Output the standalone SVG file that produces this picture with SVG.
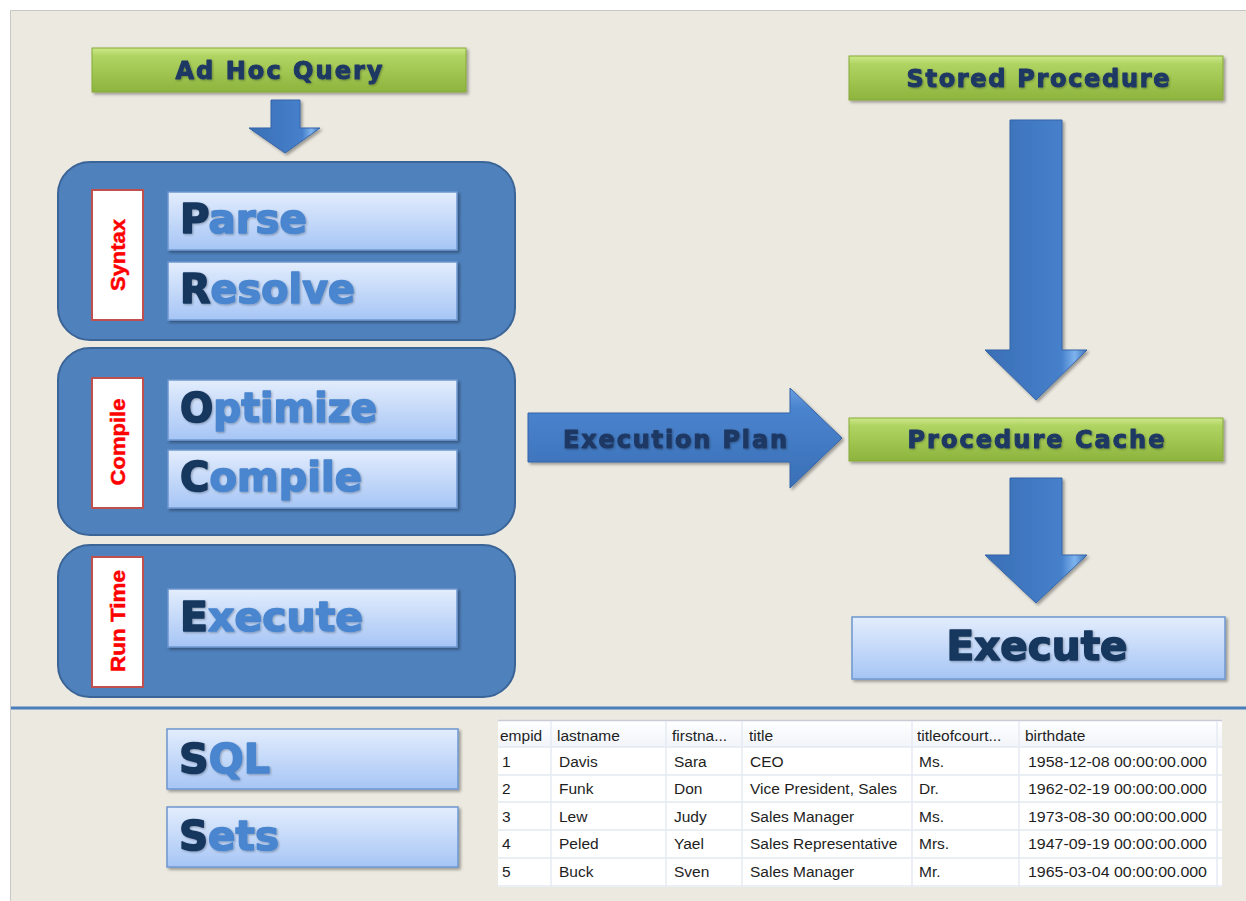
<svg xmlns="http://www.w3.org/2000/svg" width="1246" height="901" viewBox="0 0 1246 901">
<defs>
  <linearGradient id="greenGrad" x1="0" y1="0" x2="0" y2="1">
    <stop offset="0" stop-color="#CDE88A"/>
    <stop offset="0.18" stop-color="#B0D462"/>
    <stop offset="1" stop-color="#8DB43D"/>
  </linearGradient>
  <linearGradient id="procGrad" x1="0" y1="0" x2="0" y2="1">
    <stop offset="0" stop-color="#E3EDFD"/>
    <stop offset="1" stop-color="#A6C5F5"/>
  </linearGradient>
  <linearGradient id="downGrad" x1="0" y1="0" x2="1" y2="0">
    <stop offset="0" stop-color="#3A6FB6"/>
    <stop offset="0.75" stop-color="#4680CB"/>
    <stop offset="0.88" stop-color="#7DB3EE"/>
    <stop offset="1" stop-color="#3D74BB"/>
  </linearGradient>
  <linearGradient id="rightGrad" x1="0" y1="0" x2="0" y2="1">
    <stop offset="0" stop-color="#6A9FE2"/>
    <stop offset="0.2" stop-color="#4A84CE"/>
    <stop offset="1" stop-color="#3A6FB6"/>
  </linearGradient>
  <linearGradient id="hdrGrad" x1="0" y1="0" x2="0" y2="1">
    <stop offset="0" stop-color="#FFFFFF"/>
    <stop offset="1" stop-color="#F1F4F9"/>
  </linearGradient>
  <filter id="sh" x="-5%" y="-10%" width="115%" height="140%">
    <feDropShadow dx="2" dy="2" stdDeviation="1.5" flood-color="#000" flood-opacity="0.35"/>
  </filter>
  <filter id="tsh" x="-5%" y="-10%" width="115%" height="140%">
    <feDropShadow dx="1" dy="1" stdDeviation="0.8" flood-color="#000" flood-opacity="0.3"/>
  </filter>
  <style>
    .grp { fill:#4F81BD; stroke:#3B6497; stroke-width:2; }
    .lbl { fill:#FFFFFF; stroke:#C0504D; stroke-width:2; }
    .lbltxt { font-family:"Liberation Sans", Arial, sans-serif; font-weight:bold; font-size:21px; fill:#FF0000; stroke:#FF0000; stroke-width:0.5; text-anchor:middle; }
    .proc { fill:url(#procGrad); stroke:#6D97D0; stroke-width:1.5; filter:url(#sh); }
    .big { font-family:"DejaVu Sans", Verdana, sans-serif; font-weight:bold; font-size:40px; filter:url(#tsh); stroke-width:1.6; stroke-linejoin:round; }
    .d { fill:#17375E; stroke:#17375E; }
    .l { fill:#4A86CF; stroke:#4A86CF; }
    .green { fill:url(#greenGrad); stroke:#86A93A; stroke-width:1; filter:url(#sh); }
    .gtxt { font-family:"DejaVu Sans", Verdana, sans-serif; font-weight:bold; font-size:24px; fill:#1F3864; stroke:#1F3864; stroke-width:1; stroke-linejoin:round; text-anchor:middle; filter:url(#tsh); }
    .down { fill:url(#downGrad); stroke:#3565A8; stroke-width:1; filter:url(#sh); }
    .right { fill:url(#rightGrad); stroke:#3565A8; stroke-width:1; filter:url(#sh); }
    .tbl { font-family:"Liberation Sans", Arial, sans-serif; font-size:15.5px; fill:#1E1E1E; }
    .rowline { stroke:#E3E9F2; stroke-width:1.5; }
    .colline { stroke:#E6EBF3; stroke-width:1.5; }
  </style>
</defs>

<rect x="0" y="0" width="1246" height="901" fill="#FFFFFF"/>
<rect x="10.5" y="10.5" width="1240" height="895" fill="#ECE9E0" stroke="#C8C8C8" stroke-width="1"/>
<line x1="11" y1="708" x2="1246" y2="708" stroke="#4A7EBB" stroke-width="3"/>

<g id="connectors">
  <path class="down" d="M271,100 H300 V128 H320 L285,153 L249,128 H271 Z"/>
  <path class="down" d="M1010,120 H1062 V350 H1087 L1036,400 L985,350 H1010 Z"/>
  <path class="down" d="M1010,478 H1062 V555 H1087 L1036,603 L985,555 H1010 Z"/>
</g>

<g id="adhoc">
  <rect class="green" x="92" y="48" width="374" height="44"/>
  <text class="gtxt" x="279" y="79" textLength="207" lengthAdjust="spacing">Ad Hoc Query</text>
</g>

<g id="syntax">
  <rect class="grp" x="58" y="162" width="457" height="178" rx="32"/>
  <rect class="lbl" x="92" y="190" width="51" height="130"/>
  <text class="lbltxt" transform="translate(125,255) rotate(-90)" textLength="72" lengthAdjust="spacingAndGlyphs">Syntax</text>
  <rect class="proc" x="168" y="192" width="289" height="58"/>
  <text class="big" x="180" y="233" textLength="127" lengthAdjust="spacingAndGlyphs"><tspan class="d">P</tspan><tspan class="l">arse</tspan></text>
  <rect class="proc" x="168" y="262" width="289" height="58"/>
  <text class="big" x="180" y="303" textLength="175" lengthAdjust="spacingAndGlyphs"><tspan class="d">R</tspan><tspan class="l">esolve</tspan></text>
</g>

<g id="compile">
  <rect class="grp" x="58" y="348" width="457" height="187" rx="32"/>
  <rect class="lbl" x="92" y="378" width="51" height="130"/>
  <text class="lbltxt" transform="translate(125,442) rotate(-90)" textLength="87" lengthAdjust="spacingAndGlyphs">Compile</text>
  <rect class="proc" x="168" y="380" width="289" height="60"/>
  <text class="big" x="180" y="422" textLength="197" lengthAdjust="spacingAndGlyphs"><tspan class="d">O</tspan><tspan class="l">ptimize</tspan></text>
  <rect class="proc" x="168" y="450" width="289" height="58"/>
  <text class="big" x="180" y="491" textLength="182" lengthAdjust="spacingAndGlyphs"><tspan class="d">C</tspan><tspan class="l">ompile</tspan></text>
</g>

<g id="runtime">
  <rect class="grp" x="58" y="545" width="457" height="152" rx="32"/>
  <rect class="lbl" x="92" y="557" width="51" height="130"/>
  <text class="lbltxt" transform="translate(125,621) rotate(-90)" textLength="102" lengthAdjust="spacingAndGlyphs">Run Time</text>
  <rect class="proc" x="168" y="589" width="289" height="58"/>
  <text class="big" x="180" y="631" textLength="183" lengthAdjust="spacingAndGlyphs"><tspan class="d">E</tspan><tspan class="l">xecute</tspan></text>
</g>

<g id="execplan">
  <path class="right" d="M528,413 H790 V388 L842,438 L790,488 V462 H528 Z"/>
  <text class="gtxt" x="675" y="448" textLength="224" lengthAdjust="spacing">Execution Plan</text>
</g>

<g id="storedproc">
  <rect class="green" x="849" y="56" width="374" height="44"/>
  <text class="gtxt" x="1038" y="87" textLength="263" lengthAdjust="spacing">Stored Procedure</text>
</g>

<g id="proccache">
  <rect class="green" x="849" y="418" width="374" height="43"/>
  <text class="gtxt" x="1036" y="448" textLength="257" lengthAdjust="spacing">Procedure Cache</text>
</g>

<g id="execute2">
  <rect class="proc" x="852" y="617" width="373" height="62"/>
  <text class="big d" x="1037" y="660" text-anchor="middle" textLength="181" lengthAdjust="spacingAndGlyphs">Execute</text>
</g>

<g id="sql">
  <rect class="proc" x="167" y="729" width="291" height="60"/>
  <text class="big" x="179" y="773" textLength="91" lengthAdjust="spacingAndGlyphs"><tspan class="d">S</tspan><tspan class="l">QL</tspan></text>
</g>

<g id="sets">
  <rect class="proc" x="167" y="807" width="291" height="60"/>
  <text class="big" x="179" y="850" textLength="100" lengthAdjust="spacingAndGlyphs"><tspan class="d">S</tspan><tspan class="l">ets</tspan></text>
</g>

<g id="table">
  <rect x="498" y="720" width="724" height="167" fill="#FFFFFF"/>
  <rect x="498" y="721" width="724" height="26" fill="url(#hdrGrad)"/>
  <line x1="498" y1="720.5" x2="1222" y2="720.5" stroke="#C9CCD8" stroke-width="1.5"/>
  <line class="rowline" x1="498" y1="747" x2="1222" y2="747"/>
  <line class="rowline" x1="498" y1="775" x2="1222" y2="775"/>
  <line class="rowline" x1="498" y1="802" x2="1222" y2="802"/>
  <line class="rowline" x1="498" y1="830" x2="1222" y2="830"/>
  <line class="rowline" x1="498" y1="858" x2="1222" y2="858"/>
  <line class="rowline" x1="498" y1="886" x2="1222" y2="886"/>
  <line class="colline" x1="551" y1="721" x2="551" y2="887"/>
  <line class="colline" x1="666" y1="721" x2="666" y2="887"/>
  <line class="colline" x1="742" y1="721" x2="742" y2="887"/>
  <line class="colline" x1="912" y1="721" x2="912" y2="887"/>
  <line class="colline" x1="1019" y1="721" x2="1019" y2="887"/>
  <line class="colline" x1="1217" y1="721" x2="1217" y2="887"/>

  <text class="tbl" x="500" y="741">empid</text>
  <text class="tbl" x="557" y="741">lastname</text>
  <text class="tbl" x="672" y="741">firstna...</text>
  <text class="tbl" x="749" y="741">title</text>
  <text class="tbl" x="917" y="741">titleofcourt...</text>
  <text class="tbl" x="1025" y="741">birthdate</text>

  <text class="tbl" x="502" y="767">1</text>
  <text class="tbl" x="559" y="767">Davis</text>
  <text class="tbl" x="674" y="767">Sara</text>
  <text class="tbl" x="750" y="767">CEO</text>
  <text class="tbl" x="919" y="767">Ms.</text>
  <text class="tbl" x="1028" y="767" textLength="179" lengthAdjust="spacingAndGlyphs">1958-12-08 00:00:00.000</text>

  <text class="tbl" x="502" y="794">2</text>
  <text class="tbl" x="559" y="794">Funk</text>
  <text class="tbl" x="674" y="794">Don</text>
  <text class="tbl" x="750" y="794">Vice President, Sales</text>
  <text class="tbl" x="919" y="794">Dr.</text>
  <text class="tbl" x="1028" y="794" textLength="179" lengthAdjust="spacingAndGlyphs">1962-02-19 00:00:00.000</text>

  <text class="tbl" x="502" y="822">3</text>
  <text class="tbl" x="559" y="822">Lew</text>
  <text class="tbl" x="674" y="822">Judy</text>
  <text class="tbl" x="750" y="822">Sales Manager</text>
  <text class="tbl" x="919" y="822">Ms.</text>
  <text class="tbl" x="1028" y="822" textLength="179" lengthAdjust="spacingAndGlyphs">1973-08-30 00:00:00.000</text>

  <text class="tbl" x="502" y="849">4</text>
  <text class="tbl" x="559" y="849">Peled</text>
  <text class="tbl" x="674" y="849">Yael</text>
  <text class="tbl" x="750" y="849">Sales Representative</text>
  <text class="tbl" x="919" y="849">Mrs.</text>
  <text class="tbl" x="1028" y="849" textLength="179" lengthAdjust="spacingAndGlyphs">1947-09-19 00:00:00.000</text>

  <text class="tbl" x="502" y="877">5</text>
  <text class="tbl" x="559" y="877">Buck</text>
  <text class="tbl" x="674" y="877">Sven</text>
  <text class="tbl" x="750" y="877">Sales Manager</text>
  <text class="tbl" x="919" y="877">Mr.</text>
  <text class="tbl" x="1028" y="877" textLength="179" lengthAdjust="spacingAndGlyphs">1965-03-04 00:00:00.000</text>
</g>
</svg>
